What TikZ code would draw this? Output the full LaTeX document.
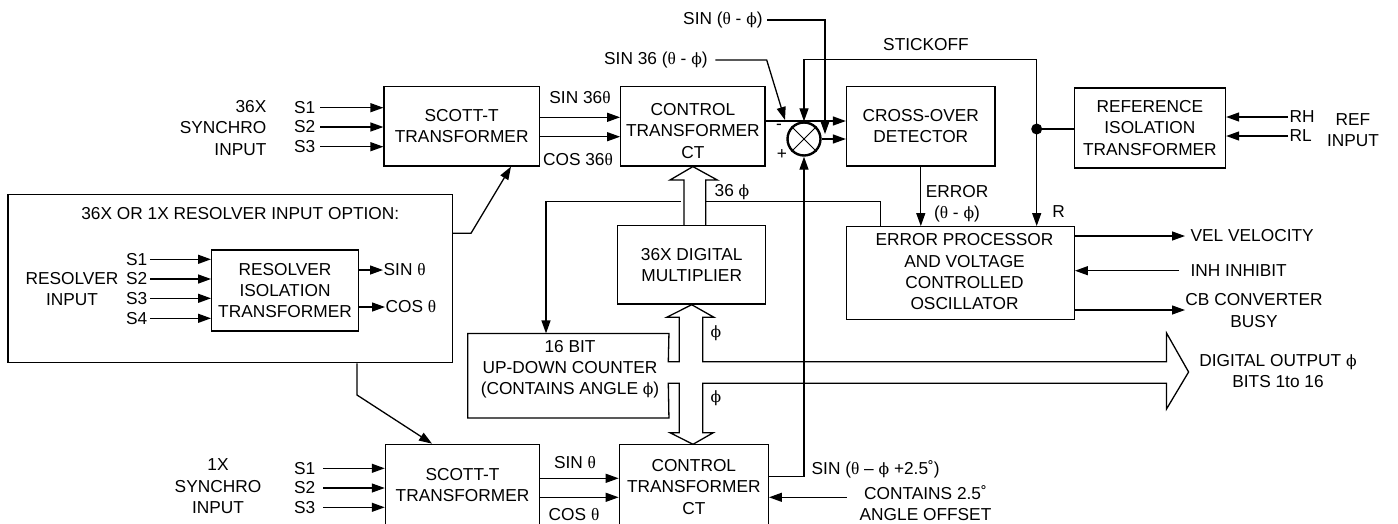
\documentclass[tikz,border=0pt]{standalone}
\usepackage{fontspec}
\setmainfont{Liberation Sans}
\newfontfamily\grk{Liberation Serif}
\newfontfamily\grkp[Scale=0.9]{DejaVu Serif}
\usetikzlibrary{arrows.meta,calc}
\newcommand{\gth}{{\grk θ}}
\newcommand{\gph}{{\grkp ϕ}}
\begin{document}
\begin{tikzpicture}[x=1pt,y=-1pt,
  font=\fontsize{17.3}{21.3}\selectfont,
  line width=1.3pt,
  >={Triangle[length=13pt,width=9pt]},
  box/.style={draw, inner sep=0pt, align=center},
  txt/.style={inner sep=0pt, align=center}]
\useasboundingbox (0,0) rectangle (1398,523);

% ---------- boxes ----------
\node[box, minimum width=155.3pt, minimum height=79.3pt] (st1) at (461.7,126.3) {SCOTT-T\\TRANSFORMER};
\node[box, minimum width=144.3pt, minimum height=79.3pt] (ct1) at (692.9,126.3) {};
\node[txt] (ct1t) at (692.9,131) {CONTROL\\TRANSFORMER\\CT};
\node[box, minimum width=148.5pt, minimum height=79.3pt] (cod) at (920.8,126.3) {CROSS-OVER\\DETECTOR};
\node[box, minimum width=151.2pt, minimum height=80pt] (rit) at (1149.9,128) {REFERENCE\\ISOLATION\\TRANSFORMER};
\node[box, minimum width=227.8pt, minimum height=92.6pt] (ep) at (960.4,273) {};
\node[txt] (ept) at (964.5,271.7) {ERROR PROCESSOR\\AND VOLTAGE\\CONTROLLED\\OSCILLATOR};
\node[box, minimum width=148pt, minimum height=78.3pt] (mul) at (691.7,264.9) {36X DIGITAL\\MULTIPLIER};
\node[inner sep=0pt, minimum width=200pt, minimum height=83.3pt] (cnt) at (568.3,375.7) {};
\node[txt] (cntt) at (570,369.3) {16 BIT\\UP-DOWN COUNTER\\(CONTAINS ANGLE \gph)};
\node[box, minimum width=444.3pt, minimum height=168.4pt] (ropt) at (230.2,278.5) {};
\node[txt] (roptt) at (240.3,214) {36X OR 1X RESOLVER INPUT OPTION:};
\node[box, minimum width=146.6pt, minimum height=81pt] (riso) at (285,290.5) {RESOLVER\\ISOLATION\\TRANSFORMER};
\node[box, minimum width=154.2pt, minimum height=82pt] (st2) at (462.5,485.3) {SCOTT-T\\TRANSFORMER};
\node[box, minimum width=149pt, minimum height=81.7pt] (ct2) at (693.8,485.2) {};
\node[txt] (ct2t) at (693.8,487) {CONTROL\\TRANSFORMER\\CT};

% ---------- summing junction ----------
\node[circle, draw, line width=2.4pt, minimum size=33pt, inner sep=0pt] (sum) at (804,139) {};
\draw[line width=1pt] (sum.45) -- (sum.225) (sum.135) -- (sum.315);
\node[txt] (mi) at (779,127) {-};
\node[txt] (pl) at (782,155) {+};

% ---------- 36X synchro input ----------
\node[txt, align=right, anchor=east] (syn1) at (267,128) {36X\\SYNCHRO\\INPUT};
\foreach \i/\y in {1/107.7,2/127,3/146.7}{
  \node[txt, anchor=east] (ta\i) at (316,\y) {S\i};
  \draw[->] ([xshift=4pt]ta\i.east) -- (ta\i.east -| st1.west);
}
\draw[->] (st1.east |- 0,117.3) -- (ct1.west |- 0,117.3);
\draw[->] (st1.east |- 0,136.7) -- (ct1.west |- 0,136.7);
\node[txt] (s36) at (580,98) {SIN 36\gth};
\node[txt] (c36) at (578,160) {COS 36\gth};

% ---------- top signals into sum ----------
\node[txt, anchor=east] (s36e) at (708.3,60) {SIN 36 (\gth{} - \gph)};
\coordinate (k1) at (766.7,60);
\coordinate (k1t) at (785,120);
\draw[->] ([xshift=7pt]s36e.east) -- (k1) -- (k1t);
\node[txt, anchor=east] (sne) at (763.3,20) {SIN (\gth{} - \gph)};
\coordinate (k2) at (825,20);
\coordinate (k2t) at (825,134);
\draw[->] ([xshift=4pt]sne.east) -- (k2) -- (k2t);

\draw[->] (ct1.east |- 0,121) -- (cod.west |- 0,121);
\draw[->] (sum.east) -- (sum.east -| cod.west);

% ---------- stickoff / reference ----------
\node[txt] (stk) at (926,45) {STICKOFF};
\node[circle, fill, minimum size=11pt, inner sep=0pt] (dot) at (1036.7,129) {};
\draw[->] (dot.center) -- (1036.7,59.3) -- (sum.north |- 0,59.3) -- (sum.north);
\draw[->] (dot.center) -- (dot.center |- ep.north);
\draw (dot.center) -- (dot.center -| rit.west);
\node[txt] (rl) at (1058.5,212) {R};
\node[txt, anchor=west] (rh) at (1289,117) {RH};
\node[txt, anchor=west] (rlo) at (1289,136) {RL};
\draw[->] ([xshift=-1pt]rh.west) -- (rh.west -| rit.east);
\draw[->] ([xshift=-1pt]rlo.west) -- (rlo.west -| rit.east);
\node[txt] (refin) at (1353,130) {REF\\INPUT};

% ---------- error ----------
\draw[->] (cod.south) -- (cod.south |- ep.north);
\node[txt] (errl) at (957,204) {ERROR\\(\gth{} - \gph)};

% ---------- 36 phi feedback ----------
\draw (ep.north -| 880.8,0) -- (880.8,201.7) -- (706,201.7);
\draw[->] (680.7,201.7) -- (546,201.7) -- (cnt.north -| 546,0);
\node[txt, anchor=west] (l36) at (714,191.7) {36 \gph};

% bus multiplier -> CT
\draw (684,225.7) -- (684,180) -- (670,180) -- (ct1.south) -- (717.3,180) -- (705.7,180) -- (705.7,225.7);

% counter outline + digital buses
\draw (668.3,361.7) -- (cnt.north east) -- (cnt.north west) -- (cnt.south west) -- (cnt.south east) -- (668.3,383.3)
  -- (679.3,383.3) -- (679.3,432.7) -- (670,432.7) -- (693,444.3) -- (713.3,432.7) -- (702.7,432.7) -- (702.7,383.3)
  -- (1166.5,383.3) -- (1166.5,409) -- (1188.6,372) -- (1166.5,333) -- (1166.5,361.7) -- (702.7,361.7)
  -- (702.7,317.3) -- (714,317.3) -- (mul.south) -- (666.7,317.3) -- (679.3,317.3) -- (679.3,361.7) -- cycle;
\node[txt, anchor=west] (ph1) at (710,333) {\gph};
\node[txt, anchor=west] (ph2) at (710,398.3) {\gph};
\node[txt] (dout) at (1278,371) {DIGITAL OUTPUT \gph\\BITS 1to 16};

% ---------- error processor outputs ----------
\node[txt, anchor=west] (vel) at (1190,236) {VEL VELOCITY};
\node[txt, anchor=west] (inh) at (1190,270.7) {INH INHIBIT};
\node[txt] (cb) at (1254,310.5) {CB CONVERTER\\BUSY};
\draw[->] (ep.east |- vel.west) -- ([xshift=-5pt]vel.west);
\draw[->] ([xshift=-11pt]inh.west) -- (ep.east |- inh.west);
\draw[->] (ep.east |- 0,310) -- (1185,310);

% ---------- resolver option ----------
\node[txt] (resin) at (72,288.7) {RESOLVER\\INPUT};
\foreach \i/\y in {1/259.3,2/279,3/298.3,4/318.3}{
  \node[txt, anchor=east] (tr\i) at (148,\y) {S\i};
  \draw[->] ([xshift=2pt]tr\i.east) -- (tr\i.east -| riso.west);
}
\node[txt, anchor=west] (rsin) at (383,270) {SIN \gth};
\node[txt, anchor=west] (rcos) at (385,307) {COS \gth};
\draw[->] (riso.east |- rsin.west) -- (rsin.west);
\draw[->] (riso.east |- rcos.west) -- (rcos.west);
\draw[->] (ropt.east |- 0,233.3) -- (471,233.3) -- (st1.south -| 511,0);
\draw[->] (ropt.south -| 357,0) -- (357,395) -- (st2.north -| 432,0);

% ---------- 1X synchro ----------
\node[txt] (syn2) at (218,486.3) {1X\\SYNCHRO\\INPUT};
\foreach \i/\y in {1/468.3,2/488,3/507.3}{
  \node[txt, anchor=east] (tb\i) at (316,\y) {S\i};
  \draw[->] ([xshift=7pt]tb\i.east) -- (tb\i.east -| st2.west);
}
\draw[->] (st2.east |- 0,478.3) -- (ct2.west |- 0,478.3);
\draw[->] (st2.east |- 0,497.3) -- (ct2.west |- 0,497.3);
\node[txt] (bsin) at (575,463) {SIN \gth};
\node[txt] (bcos) at (574,515) {COS \gth};

% ---------- bottom CT output / offset ----------
\draw[->] (ct2.east |- 0,476.7) -- (sum.south |- 0,476.7) -- (sum.south);
\node[txt, anchor=west] (sof) at (811,469) {SIN (\gth{} – \gph{} +2.5˚)};
\node[txt] (cont) at (925.5,503) {CONTAINS 2.5˚\\ANGLE OFFSET};
\draw[->] (846.7,497.3) -- (ct2.east |- 0,497.3);
\end{tikzpicture}
\end{document}
